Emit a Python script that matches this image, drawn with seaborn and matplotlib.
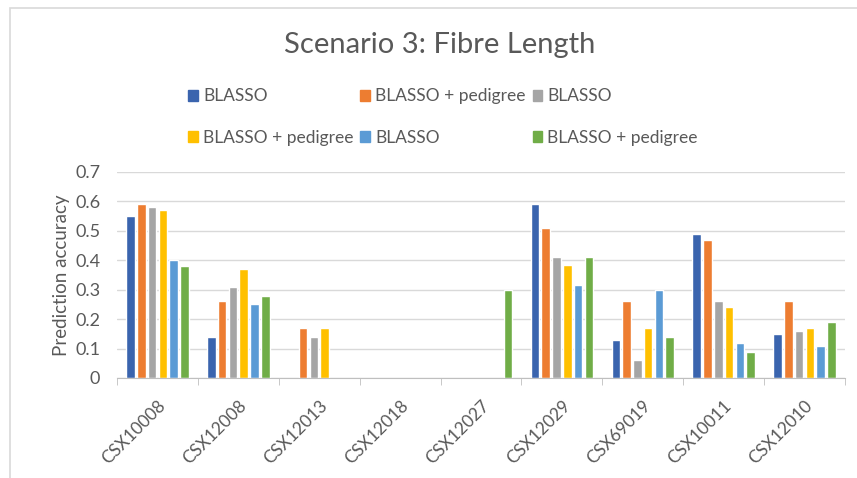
import numpy as np
import pandas as pd
import matplotlib
matplotlib.use("Agg")
import matplotlib.pyplot as plt
from matplotlib.patches import Rectangle, Patch
import seaborn as sns

# chart values (nan = no bar shown)
lines = ['CSX10008', 'CSX12008', 'CSX12013', 'CSX12018', 'CSX12027',
         'CSX12029', 'CSX69019', 'CSX10011', 'CSX12010']
series_keys = ['s1', 's2', 's3', 's4', 's5', 's6']
series_labels = ['BLASSO', 'BLASSO + pedigree', 'BLASSO',
                 'BLASSO + pedigree', 'BLASSO', 'BLASSO + pedigree']
s1 = [0.55, 0.14, np.nan, np.nan, np.nan, 0.59, 0.13, 0.49, 0.15]
s2 = [0.59, 0.26, 0.17, np.nan, np.nan, 0.51, 0.26, 0.47, 0.26]
s3 = [0.58, 0.31, 0.14, np.nan, np.nan, 0.41, 0.06, 0.26, 0.16]
s4 = [0.57, 0.37, 0.17, np.nan, np.nan, 0.385, 0.17, 0.24, 0.17]
s5 = [0.40, 0.25, np.nan, np.nan, np.nan, 0.315, 0.30, 0.12, 0.11]
s6 = [0.38, 0.28, np.nan, np.nan, 0.30, 0.41, 0.14, 0.09, 0.19]
colors = ['#3A64AE', '#ED7D31', '#A5A5A5', '#FFC000', '#5B9BD5', '#70AD47']

rows = []
for key, vals in zip(series_keys, [s1, s2, s3, s4, s5, s6]):
    for line, v in zip(lines, vals):
        rows.append({'line': line, 'series': key, 'acc': v})
df = pd.DataFrame(rows).dropna()

sns.set_style("white")
plt.rcParams['font.family'] = ['Lato', 'DejaVu Sans']
txt = '#595959'

fig = plt.figure(figsize=(8.57, 4.78), dpi=100)
ax = fig.add_axes([117 / 857, 1 - 378 / 478, (845 - 117) / 857, (378 - 172) / 478])

sns.barplot(data=df, x='line', y='acc', hue='series', order=lines,
            hue_order=series_keys, palette=colors, width=0.8, gap=0.2,
            errorbar=None, legend=False, ax=ax, saturation=1)

ax.set_ylim(0, 0.7)
ax.set_xlim(-0.5, len(lines) - 0.5)
ax.set_yticks(np.arange(0, 0.71, 0.1))
ax.set_yticklabels(['0'] + [f'{v:.1f}' for v in np.arange(0.1, 0.71, 0.1)])
ax.yaxis.grid(True, color='#D9D9D9', linewidth=1)
ax.set_axisbelow(True)
for side in ['top', 'right', 'left']:
    ax.spines[side].set_visible(False)
ax.spines['bottom'].set_color('#BFBFBF')

# tick marks between categories, like the spreadsheet chart
ax.set_xticks(np.arange(-0.5, len(lines), 1), minor=True)
ax.tick_params(axis='x', which='minor', length=5, color='#BFBFBF', direction='out', bottom=True)
ax.tick_params(axis='x', which='major', length=0, pad=14)
ax.tick_params(axis='y', length=0, pad=12)
ax.set_xticks(range(len(lines)))
ax.set_xticklabels(lines, rotation=45, ha='right', rotation_mode='anchor',
                   fontsize=12.5, color=txt)
for t in ax.get_yticklabels():
    t.set_fontsize(13)
    t.set_color(txt)
ax.set_xlabel('')
ax.set_ylabel('Prediction accuracy', fontsize=13.5, color=txt, labelpad=4)

fig.text(440 / 857, 1 - 45 / 478, 'Scenario 3: Fibre Length', ha='center', va='center',
         fontsize=21, color=txt)

# legend: entries fill row by row in the reference, so reorder for matplotlib columns
handles = [Patch(color=c) for c in colors]
order = [0, 3, 1, 4, 2, 5]
fig.legend([handles[i] for i in order], [series_labels[i] for i in order],
           loc='center', bbox_to_anchor=(443 / 857, 1 - 117 / 478), ncol=3,
           frameon=False, fontsize=12.5, labelcolor=txt, handlelength=0.55,
           handleheight=0.55, handletextpad=0.3, columnspacing=0.4,
           labelspacing=1.45)

# chart area border
fig.add_artist(Rectangle((10 / 857, -0.1), 1.2, 1.1 - 8 / 478, transform=fig.transFigure,
                         fill=False, edgecolor='#D9D9D9', linewidth=1.2))

fig.savefig('out.png', dpi=100)
